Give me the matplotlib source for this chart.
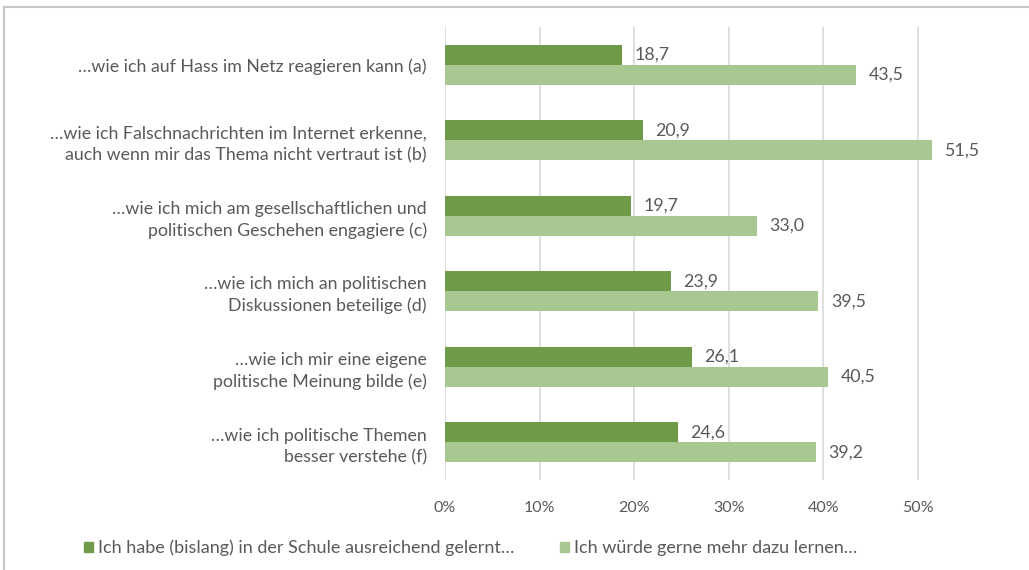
import matplotlib.pyplot as plt
from matplotlib.lines import Line2D
from matplotlib.patches import Patch

# Kategorien (von oben nach unten)
categories = [
    "…wie ich auf Hass im Netz reagieren kann (a)",
    "…wie ich Falschnachrichten im Internet erkenne,\nauch wenn mir das Thema nicht vertraut ist (b)",
    "…wie ich mich am gesellschaftlichen und\npolitischen Geschehen engagiere (c)",
    "…wie ich mich an politischen\nDiskussionen beteilige (d)",
    "…wie ich mir eine eigene\npolitische Meinung bilde (e)",
    "…wie ich politische Themen\nbesser verstehe (f)",
]
gelernt = [18.7, 20.9, 19.7, 23.9, 26.1, 24.6]
mehr_lernen = [43.5, 51.5, 33.0, 39.5, 40.5, 39.2]
series_names = ["Ich habe (bislang) in der Schule ausreichend gelernt…",
                "Ich würde gerne mehr dazu lernen…"]
x_ticks = [0, 10, 20, 30, 40, 50]

DARK = "#6f9a4a"
LIGHT = "#a9c791"
TEXT = "#595959"
GRID = "#d9d9d9"
FONT = ["Lato", "DejaVu Sans"]

fig = plt.figure(figsize=(10.29, 5.7), dpi=100)
ax = fig.add_axes([445 / 1029, 90 / 570, 520 / 1029, 453 / 570])

pos = list(range(len(categories)))
h = 0.265
bars1 = ax.barh([p - h / 2 for p in pos], gelernt, height=h, color=DARK)
bars2 = ax.barh([p + h / 2 for p in pos], mehr_lernen, height=h, color=LIGHT)

for bars, vals in ((bars1, gelernt), (bars2, mehr_lernen)):
    for b, v in zip(bars, vals):
        ax.annotate(f"{v:.1f}".replace(".", ","),
                    (v, b.get_y() + b.get_height() / 2),
                    xytext=(9, 0), textcoords="offset points",
                    va="center", ha="left", fontsize=12.8,
                    color=TEXT, family=FONT)

ax.set_ylim(len(categories) - 0.5, -0.5)
ax.set_xlim(0, 55)
ax.set_yticks(pos)
ax.set_yticklabels(categories, fontsize=12.8, color=TEXT, family=FONT,
                   linespacing=1.4)
ax.set_xticks(x_ticks)
ax.set_xticklabels([f"{t}%" for t in x_ticks], fontsize=11.5,
                   color=TEXT, family=FONT)
ax.tick_params(axis="both", length=0)
ax.tick_params(axis="x", pad=15)
ax.tick_params(axis="y", pad=13)
ax.grid(axis="x", color=GRID, linewidth=1.2)
ax.set_axisbelow(True)
for s in ax.spines.values():
    s.set_visible(False)

handles = [Patch(color=DARK), Patch(color=LIGHT)]
leg = fig.legend(handles, series_names, loc="center left",
                 bbox_to_anchor=(84 / 1029, 1 - 548 / 570), ncol=2,
                 frameon=False, borderpad=0, borderaxespad=0,
                 handlelength=0.5, handleheight=0.5,
                 handletextpad=0.3, columnspacing=2.5,
                 prop={"family": FONT, "size": 13})
for t in leg.get_texts():
    t.set_color(TEXT)

# Rahmen oben und links
fig.add_artist(Line2D([4 / 1029, 1], [1 - 7 / 570] * 2, color="#c8c8c8",
                      linewidth=1.5, transform=fig.transFigure))
fig.add_artist(Line2D([4 / 1029] * 2, [0, 1 - 7 / 570], color="#c8c8c8",
                      linewidth=1.5, transform=fig.transFigure))

fig.savefig("out.png", dpi=100)
